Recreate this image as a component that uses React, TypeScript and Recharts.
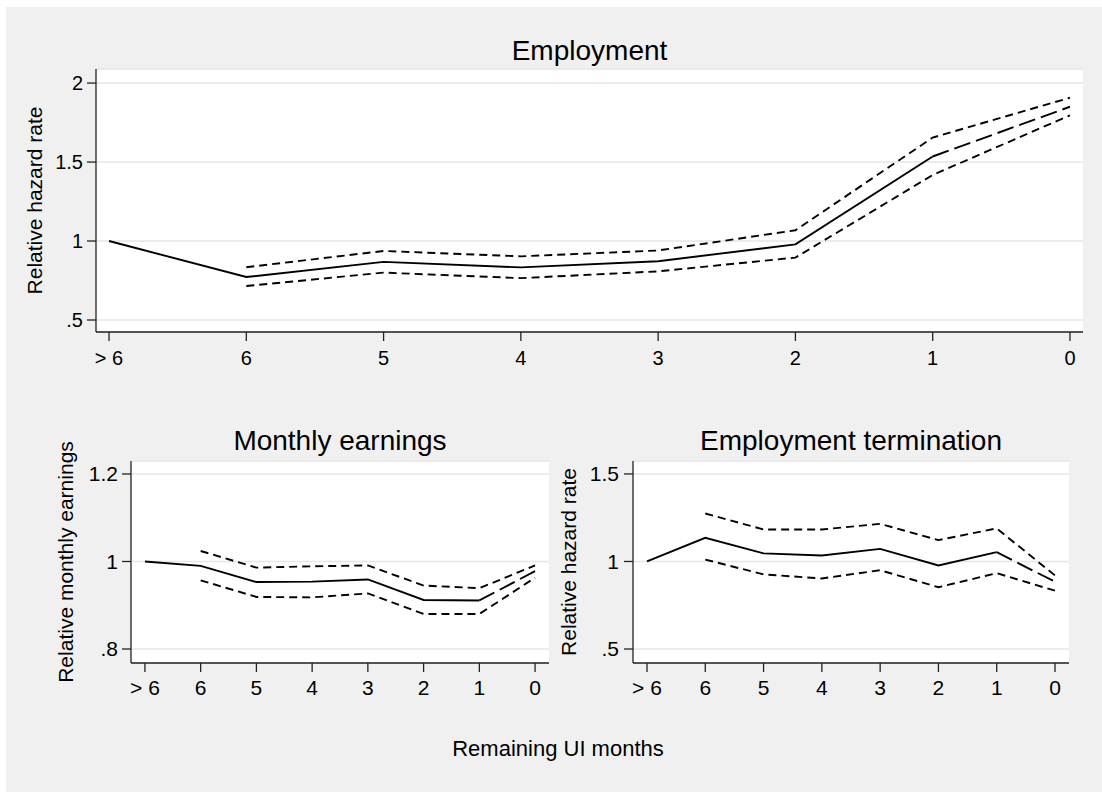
import React from 'react';
import { LineChart, Line, XAxis, YAxis, CartesianGrid } from 'recharts';

const FONT = '"Liberation Sans", Arial, Helvetica, sans-serif';

const xLabels = ['> 6', '6', '5', '4', '3', '2', '1', '0'];
const xPositions = [0, 1, 2, 3, 4, 5, 6, 7];

const empPoint = [1.0, 0.772, 0.868, 0.833, 0.872, 0.979, 1.535, 1.85];
const empUpper = [null, 0.834, 0.937, 0.903, 0.94, 1.068, 1.655, 1.907];
const empLower = [null, 0.715, 0.8, 0.765, 0.808, 0.895, 1.418, 1.796];

const earnPoint = [1.0, 0.99, 0.953, 0.954, 0.959, 0.912, 0.911, 0.978];
const earnUpper = [null, 1.024, 0.986, 0.989, 0.991, 0.945, 0.939, 0.991];
const earnLower = [null, 0.957, 0.919, 0.918, 0.927, 0.88, 0.88, 0.963];

const termPoint = [1.0, 1.135, 1.046, 1.034, 1.072, 0.977, 1.053, 0.884];
const termUpper = [null, 1.274, 1.183, 1.183, 1.215, 1.122, 1.189, 0.92];
const termLower = [null, 1.011, 0.926, 0.903, 0.95, 0.853, 0.933, 0.833];

const empTicks = [0.5, 1, 1.5, 2];
const empTickLabels = ['.5', '1', '1.5', '2'];
const earnTicks = [0.8, 1, 1.2];
const earnTickLabels = ['.8', '1', '1.2'];
const termTicks = [0.5, 1, 1.5];
const termTickLabels = ['.5', '1', '1.5'];

type Row = { x: number; point: number | null; tail: number | null; upper: number | null; lower: number | null };

function buildRows(point: (number | null)[], upper: (number | null)[], lower: (number | null)[]): Row[] {
  return xPositions.map((x, i) => ({
    x,
    point: i <= 6 ? point[i] : null,
    tail: i >= 6 ? point[i] : null,
    upper: upper[i],
    lower: lower[i],
  }));
}

type PanelProps = {
  left: number;
  top: number;
  width: number;
  height: number;
  marginTop: number;
  marginRight: number;
  yAxisWidth: number;
  xAxisHeight: number;
  xDomain: [number, number];
  yDomain: [number, number];
  yTicks: number[];
  yTickLabels: string[];
  fontSize: number;
  xTickMargin: number;
  yTickMargin: number;
  data: Row[];
};

function Panel(p: PanelProps) {
  const tickStyle = { fontSize: p.fontSize, fill: '#000', fontFamily: FONT };
  return (
    <div style={{ position: 'absolute', left: p.left, top: p.top, width: p.width, height: p.height }}>
      <LineChart
        width={p.width}
        height={p.height}
        data={p.data}
        margin={{ top: p.marginTop, right: p.marginRight, left: 0, bottom: 0 }}
      >
        <CartesianGrid vertical={false} fill="#ffffff" fillOpacity={1} stroke="#e6e6e6" strokeWidth={1.5} />
        <XAxis
          dataKey="x"
          type="number"
          domain={p.xDomain}
          ticks={xPositions}
          interval={0}
          allowDataOverflow
          height={p.xAxisHeight}
          tickSize={9}
          tickMargin={p.xTickMargin}
          tickFormatter={(v: number) => xLabels[Math.round(v)]}
          tick={tickStyle}
          axisLine={{ stroke: '#222', strokeWidth: 1.3 }}
          tickLine={{ stroke: '#222', strokeWidth: 1.3 }}
        />
        <YAxis
          type="number"
          domain={p.yDomain}
          ticks={p.yTicks}
          interval={0}
          allowDataOverflow
          width={p.yAxisWidth}
          tickSize={9}
          tickMargin={p.yTickMargin}
          tickFormatter={(v: number) => {
            const i = p.yTicks.findIndex((t) => Math.abs(t - v) < 1e-6);
            return i >= 0 ? p.yTickLabels[i] : '';
          }}
          tick={tickStyle}
          axisLine={{ stroke: '#222', strokeWidth: 1.3 }}
          tickLine={{ stroke: '#222', strokeWidth: 1.3 }}
        />
        <Line dataKey="upper" stroke="#000" strokeWidth={1.9} strokeDasharray="8 5" dot={false} activeDot={false} isAnimationActive={false} />
        <Line dataKey="lower" stroke="#000" strokeWidth={1.9} strokeDasharray="8 5" dot={false} activeDot={false} isAnimationActive={false} />
        <Line dataKey="point" stroke="#000" strokeWidth={1.9} dot={false} activeDot={false} isAnimationActive={false} />
        <Line dataKey="tail" stroke="#000" strokeWidth={1.9} strokeDasharray="17 6" dot={false} activeDot={false} isAnimationActive={false} />
      </LineChart>
    </div>
  );
}

export default function App() {
  const empRows = buildRows(empPoint, empUpper, empLower);
  const earnRows = buildRows(earnPoint, earnUpper, earnLower);
  const termRows = buildRows(termPoint, termUpper, termLower);
  return (
    <div style={{ position: 'absolute', left: 0, top: 0, width: 1102, height: 792, fontFamily: FONT }}>
      <div style={{ position: 'absolute', left: 6, top: 7, width: 1096, height: 785, background: '#f0f0f0' }} />
      <Panel
        left={0}
        top={0}
        width={1102}
        height={400}
        marginTop={69}
        marginRight={19}
        yAxisWidth={96}
        xAxisHeight={68}
        xDomain={[-0.095, 7.095]}
        yDomain={[0.424, 2.089]}
        yTicks={empTicks}
        yTickLabels={empTickLabels}
        fontSize={20}
        xTickMargin={10}
        yTickMargin={4}
        data={empRows}
      />
      <Panel
        left={0}
        top={400}
        width={560}
        height={392}
        marginTop={61}
        marginRight={11}
        yAxisWidth={131}
        xAxisHeight={129}
        xDomain={[-0.25, 7.25]}
        yDomain={[0.768, 1.2297]}
        yTicks={earnTicks}
        yTickLabels={earnTickLabels}
        fontSize={21}
        xTickMargin={8}
        yTickMargin={4}
        data={earnRows}
      />
      <Panel
        left={560}
        top={400}
        width={542}
        height={392}
        marginTop={61}
        marginRight={33}
        yAxisWidth={73}
        xAxisHeight={129}
        xDomain={[-0.24, 7.24]}
        yDomain={[0.42, 1.574]}
        yTicks={termTicks}
        yTickLabels={termTickLabels}
        fontSize={21}
        xTickMargin={8}
        yTickMargin={5}
        data={termRows}
      />
      <svg
        width={1102}
        height={792}
        style={{ position: 'absolute', left: 0, top: 0, pointerEvents: 'none' }}
      >
        <g fontFamily={FONT} fill="#000">
          <text x={589.5} y={60} fontSize={28} textAnchor="middle">Employment</text>
          <text x={340} y={450} fontSize={28} textAnchor="middle">Monthly earnings</text>
          <text x={851} y={450} fontSize={28} textAnchor="middle">Employment termination</text>
          <text x={41.5} y={200.5} fontSize={21} textAnchor="middle" transform="rotate(-90 41.5 200.5)">Relative hazard rate</text>
          <text x={73} y={562} fontSize={21} textAnchor="middle" transform="rotate(-90 73 562)">Relative monthly earnings</text>
          <text x={576} y={562} fontSize={21} textAnchor="middle" transform="rotate(-90 576 562)">Relative hazard rate</text>
          <text x={558} y={755.5} fontSize={22} textAnchor="middle">Remaining UI months</text>
        </g>
      </svg>
    </div>
  );
}
